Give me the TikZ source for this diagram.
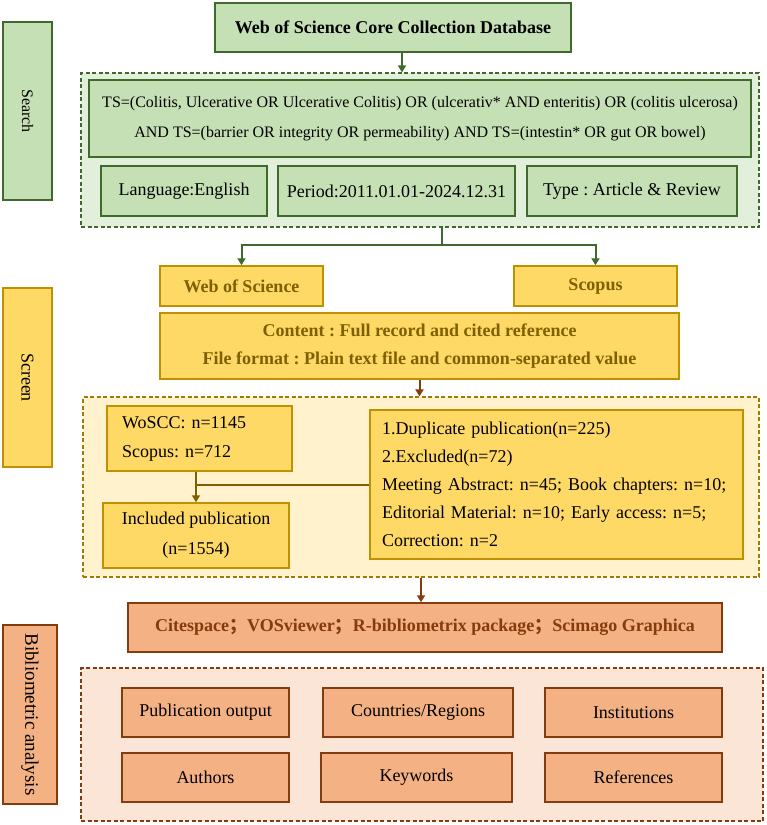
\documentclass[tikz,border=0pt]{standalone}
\usepackage{fontspec}
\setmainfont{Liberation Serif}
\newfontfamily\cjk{Noto Sans CJK SC}
\usetikzlibrary{arrows.meta}

\definecolor{gfill}{HTML}{C5E0B4}
\definecolor{gline}{HTML}{3F6A2C}
\definecolor{gpale}{HTML}{E2EFDA}
\definecolor{yfill}{HTML}{FFD966}
\definecolor{yline}{HTML}{BF9000}
\definecolor{ytext}{HTML}{7F6000}
\definecolor{ypale}{HTML}{FFF2CC}
\definecolor{ofill}{HTML}{F4B183}
\definecolor{oline}{HTML}{843C0C}
\definecolor{opale}{HTML}{FBE5D6}

\newcommand{\wsemi}{{\cjk ；}}

\tikzset{
  box/.style={draw, line width=1.5pt, inner sep=4pt, align=center,
    font=\fontsize{18}{29}\selectfont},
  gbox/.style={box, draw=gline, fill=gfill},
  ybox/.style={box, draw=yline, fill=yfill},
  obox/.style={box, draw=oline, fill=ofill},
  head/.style={font=\fontsize{18}{28}\selectfont\bfseries},
  frame/.style={draw, line width=1.2pt, dash pattern=on 4pt off 2.5pt},
  side/.style={rotate=-90, minimum height=49},
  flow/.style={line width=2pt, -{Triangle[length=7pt,width=8pt]}},
}

\begin{document}
\frenchspacing
\begin{tikzpicture}[x=1pt,y=-1pt,line cap=butt,line join=miter]
  \useasboundingbox (0,0) rectangle (767,825);

  % stage labels
  \node[gbox, side, minimum width=178, font=\fontsize{16}{20}\selectfont] (search) at (27.5,111) {Search};
  \node[ybox, side, minimum width=179] (screen) at (27.5,377.5) {Screen};
  \node[obox, side, minimum width=179, minimum height=54, font=\fontsize{19}{22}\selectfont] (biblio) at (30,714.5) {Bibliometric analysis};

  % search stage
  \node[gbox, head, minimum width=356, minimum height=49] (wosdb) at (393,27.5) {Web of Science Core Collection Database};
  \node[frame, draw=gline, fill=gpale, minimum width=678, minimum height=154] (sframe) at (420,150) {};
  \node[gbox, minimum width=662, minimum height=77, font=\fontsize{16}{30}\selectfont] (query) at (420,118.5)
    {TS=(Colitis, Ulcerative OR Ulcerative Colitis) OR (ulcerativ* AND enteritis) OR (colitis ulcerosa)\\
     AND TS=(barrier OR integrity OR permeability) AND TS=(intestin* OR gut OR bowel)};
  \node[gbox, minimum width=166, minimum height=50] (lang) at (184,191) {Language:English};
  \node[gbox, minimum width=237, minimum height=50] (period) at (396.5,191) {Period:2011.01.01-2024.12.31};
  \node[gbox, minimum width=210, minimum height=50] (type) at (632,191) {Type : Article \& Review};

  \draw[flow, gline] ([xshift=9pt]wosdb.south) -- ([xshift=9pt]wosdb.south |- sframe.north);

  % screen stage
  \node[ybox, head, text=ytext, minimum width=163, minimum height=40] (wosn) at (241.5,286) {Web of Science};
  \node[ybox, head, text=ytext, minimum width=163, minimum height=40] (scopus) at (595.5,286) {Scopus};
  \node[ybox, head, text=ytext, minimum width=519, minimum height=66] (content) at (419.5,346)
    {Content : Full record and cited reference\\
     File format : Plain text file and common-separated value};

  \coordinate (split) at (442,245);
  \draw[line width=2pt, gline] (sframe.south -| split) -- (split);
  \draw[flow, gline] (split) -| (wosn.north);
  \draw[flow, gline] (split) -| (scopus.north);

  \node[frame, draw=yline!85!black, fill=ypale, minimum width=676, minimum height=180] (scframe) at (421,487) {};
  \node[ybox, minimum height=65, align=left, inner xsep=15pt, text width=155pt] (count) at (199.5,438.5)
    {WoSCC: n=1145\\Scopus: n=712};
  \node[ybox, minimum width=186, minimum height=65, font=\fontsize{18}{30}\selectfont] (incl) at (196,535.5)
    {Included publication\\(n=1554)};
  \node[ybox, minimum height=149, align=left, inner xsep=12pt, text width=349pt,
    font=\fontsize{18}{28}\selectfont] (dup) at (556.5,484.5)
    {1.Duplicate publication(n=225)\\
     2.Excluded(n=72)\\
     Meeting Abstract: n=45; Book chapters: n=10;\\
     Editorial Material: n=10; Early access: n=5;\\
     Correction: n=2};

  \draw[flow, oline] (content.south) -- (content.south |- scframe.north);
  \draw[flow, ytext] (count.south -| incl) -- (incl.north);
  \draw[line width=2pt, ytext] (dup.west) -- (dup.west -| incl);

  % bibliometric stage
  \node[obox, head, text=oline, minimum width=594, minimum height=49] (tools) at (425,627.5)
    {Citespace\wsemi VOSviewer\wsemi R-bibliometrix package\wsemi Scimago Graphica};
  \draw[flow, oline] (scframe.south) -- (scframe.south |- tools.north);

  \node[frame, draw=oline, fill=opale, minimum width=682, minimum height=153] (bframe) at (422,744.5) {};
  \node[obox, minimum width=167, minimum height=49] (pub) at (205.5,712.5) {Publication output};
  \node[obox, minimum width=190, minimum height=49] (country) at (418,712.5) {Countries/Regions};
  \node[obox, minimum width=177, minimum height=49] (inst) at (633.5,712.5) {Institutions};
  \node[obox, minimum width=167, minimum height=49] (author) at (205.5,777.5) {Authors};
  \node[obox, minimum width=191, minimum height=49] (keyw) at (416.5,777.5) {Keywords};
  \node[obox, minimum width=177, minimum height=49] (refs) at (633.5,777.5) {References};
\end{tikzpicture}
\end{document}
